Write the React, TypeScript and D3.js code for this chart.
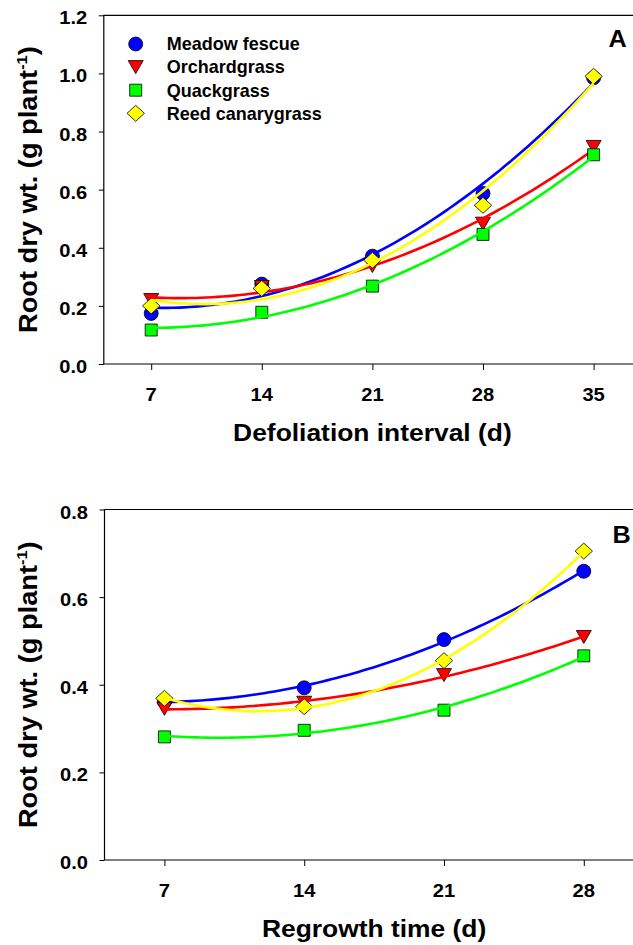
import React, { useEffect, useRef } from 'react';
import * as d3 from 'd3';

const FONT = '"Liberation Sans", Arial, Helvetica, sans-serif';

const species = ['Meadow fescue', 'Orchardgrass', 'Quackgrass', 'Reed canarygrass'];
const colors = ['#0000ff', '#ff0000', '#00ff00', '#ffff00'];
const markers = ['circle', 'triangle', 'square', 'diamond'];

// panel A: defoliation interval
const daysA = [7, 14, 21, 28, 35];
const meadowA = [0.174, 0.275, 0.371, 0.587, 0.985];
const orchardA = [0.22, 0.265, 0.337, 0.483, 0.747];
const quackA = [0.117, 0.178, 0.268, 0.446, 0.72];
const reedA = [0.2, 0.26, 0.357, 0.546, 0.99];
const yTicksA = [0, 0.2, 0.4, 0.6, 0.8, 1.0, 1.2];

// panel B: regrowth time
const daysB = [7, 14, 21, 28];
const meadowB = [0.362, 0.393, 0.503, 0.659];
const orchardB = [0.345, 0.359, 0.422, 0.509];
const quackB = [0.281, 0.296, 0.342, 0.466];
const reedB = [0.369, 0.35, 0.455, 0.705];
const yTicksB = [0, 0.2, 0.4, 0.6, 0.8];

// least squares quadratic, like the regression lines in the figure
function fitQuad(xs: number[], ys: number[]) {
  const n = xs.length;
  let s1 = 0, s2 = 0, s3 = 0, s4 = 0, t0 = 0, t1 = 0, t2 = 0;
  for (let i = 0; i < n; i++) {
    const x = xs[i], y = ys[i];
    s1 += x; s2 += x * x; s3 += x * x * x; s4 += x * x * x * x;
    t0 += y; t1 += x * y; t2 += x * x * y;
  }
  const m = [
    [n, s1, s2, t0],
    [s1, s2, s3, t1],
    [s2, s3, s4, t2],
  ];
  for (let c = 0; c < 3; c++) {
    for (let r = c + 1; r < 3; r++) {
      const f = m[r][c] / m[c][c];
      for (let k = c; k < 4; k++) m[r][k] -= f * m[c][k];
    }
  }
  const b = [0, 0, 0];
  for (let r = 2; r >= 0; r--) {
    let s = m[r][3];
    for (let k = r + 1; k < 3; k++) s -= m[r][k] * b[k];
    b[r] = s / m[r][r];
  }
  return (x: number) => b[0] + b[1] * x + b[2] * x * x;
}

function markerPath(kind: string) {
  switch (kind) {
    case 'circle':
      return d3.symbol(d3.symbolCircle, Math.PI * 7 * 7)() as string;
    case 'square':
      return 'M-6,-6H6V6H-6Z';
    case 'triangle':
      return 'M-7.5,-6.5L7.5,-6.5L0,6.5Z';
    default:
      return 'M0,-8L8.7,0L0,8L-8.7,0Z';
  }
}

function label(sel: any, str: string, x: number, y: number, size: number, anchor: string, sx = 1.1, rot = 0) {
  return sel.append('text')
    .attr('transform', `translate(${x},${y}) rotate(${rot}) scale(${sx},1)`)
    .attr('text-anchor', anchor)
    .attr('font-family', FONT)
    .attr('font-weight', 'bold')
    .attr('font-size', size)
    .attr('fill', '#000')
    .text(str);
}

type Panel = {
  days: number[];
  values: number[][];
  xDomain: [number, number];
  yDomain: [number, number];
  yTicks: number[];
  left: number; right: number; top: number; bottom: number;
  xTitle: string;
  letter: string;
  letterPos: [number, number];
};

function drawPanel(svg: any, p: Panel) {
  const x = d3.scaleLinear().domain(p.xDomain).range([p.left, p.right]);
  const y = d3.scaleLinear().domain(p.yDomain).range([p.bottom, p.top]);
  const g = svg.append('g').attr('clip-path', 'url(#page)');

  // frame: top, left, bottom (the right side runs off the page)
  g.append('path')
    .attr('d', `M${p.right},${p.top}H${p.left}V${p.bottom}H${p.right}`)
    .attr('fill', 'none').attr('stroke', '#000').attr('stroke-width', 1.2);

  // ticks
  g.append('g')
    .attr('transform', `translate(${p.left},0)`)
    .call(d3.axisLeft(y).tickValues(p.yTicks).tickSize(5).tickSizeOuter(0).tickFormat(() => ''))
    .call((a: any) => a.select('.domain').remove());
  g.append('g')
    .attr('transform', `translate(0,${p.bottom})`)
    .call(d3.axisBottom(x).tickValues(p.days).tickSize(6).tickSizeOuter(0).tickFormat(() => ''))
    .call((a: any) => a.select('.domain').remove());

  p.yTicks.forEach(t => label(g, d3.format('.1f')(t), p.left - 16.5, y(t) + 9, 17.5, 'end', 1.15));
  p.days.forEach(d => label(g, String(d), x(d), p.bottom + 37, 18, 'middle', 1.12));

  // y title with superscript
  const yt = g.append('text')
    .attr('transform', `translate(37,${(p.top + p.bottom) / 2}) rotate(-90) scale(1.09,1)`)
    .attr('text-anchor', 'middle')
    .attr('font-family', FONT)
    .attr('font-weight', 'bold')
    .attr('font-size', 25);
  yt.append('tspan').text('Root dry wt. (g plant');
  yt.append('tspan').attr('font-size', 15).attr('dy', -10).text('-1');
  yt.append('tspan').attr('dy', 10).text(')');

  label(g, p.xTitle, (p.left + p.right) / 2, p.bottom + 77, 24, 'middle', 1.1);
  label(g, p.letter, p.letterPos[0], p.letterPos[1], 24, 'middle', 1.05);

  p.values.forEach((vals, si) => {
    const f = fitQuad(p.days, vals);
    const x0 = p.days[0], x1 = p.days[p.days.length - 1];
    const xs = d3.range(0, 81).map(i => x0 + (x1 - x0) * i / 80);
    const path = d3.line<number>().x(d => x(d)).y(d => y(f(d)));

    g.append('g').selectAll('path')
      .data(vals)
      .join('path')
      .attr('d', markerPath(markers[si]))
      .attr('transform', (v: number, i: number) => `translate(${x(p.days[i])},${y(v)})`)
      .attr('fill', colors[si])
      .attr('stroke', '#000')
      .attr('stroke-width', 0.8);

    g.append('path')
      .attr('d', path(xs))
      .attr('fill', 'none')
      .attr('stroke', colors[si])
      .attr('stroke-width', 2.6);
  });
}

const App = () => {
  const svgRef = useRef<SVGSVGElement>(null);

  useEffect(() => {
    const svg = d3.select(svgRef.current);
    svg.selectAll('*').remove();
    svg.append('defs').append('clipPath').attr('id', 'page')
      .append('rect').attr('width', 633).attr('height', 945);
    svg.append('rect').attr('width', 633).attr('height', 945).attr('fill', '#fff');

    drawPanel(svg, {
      days: daysA,
      values: [meadowA, orchardA, quackA, reedA],
      xDomain: [4, 38],
      yDomain: [0, 1.2],
      yTicks: yTicksA,
      left: 103.8, right: 641, top: 15.3, bottom: 364,
      xTitle: 'Defoliation interval (d)',
      letter: 'A',
      letterPos: [617.5, 46.7],
    });

    drawPanel(svg, {
      days: daysB,
      values: [meadowB, orchardB, quackB, reedB],
      xDomain: [4, 31],
      yDomain: [0, 0.8],
      yTicks: yTicksB,
      left: 104.5, right: 643.7, top: 509.5, bottom: 860,
      xTitle: 'Regrowth time (d)',
      letter: 'B',
      letterPos: [621.7, 543],
    });

    // legend
    const lg = svg.append('g');
    const ly = d3.scaleLinear().domain([0, 3]).range([44, 113.3]);
    species.forEach((name, i) => {
      lg.append('path')
        .attr('d', markerPath(markers[i]))
        .attr('transform', `translate(135.7,${ly(i)})`)
        .attr('fill', colors[i])
        .attr('stroke', '#000')
        .attr('stroke-width', 0.8);
      label(lg, name, 166.7, ly(i) + 6.3, 17.5, 'start', 1.03);
    });
  }, []);

  return (
    <svg
      ref={svgRef}
      width={633}
      height={945}
      style={{ position: 'absolute', left: 0, top: 0, display: 'block', overflow: 'hidden' }}
    />
  );
};

export default App;
